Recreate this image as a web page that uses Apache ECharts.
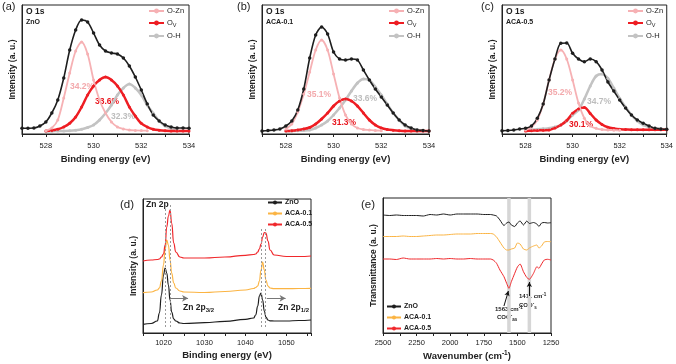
<!DOCTYPE html>
<html>
<head>
<meta charset="utf-8">
<script src="https://cdn.jsdelivr.net/npm/echarts@6/dist/echarts.min.js"></script>
<style>
html,body{margin:0;padding:0;background:#fff;}
#main{width:676px;height:364px;}
</style>
</head>
<body>
<div id="main"></div>
<script>
/*
O 1s 拟合数据 (a)(b)(c) , 纵坐标为任意单位
*/
var eO1s = [527, 527.25, 527.5, 527.75, 528, 528.25, 528.5, 528.75, 529, 529.25, 529.5, 529.75, 530, 530.25, 530.5, 530.75, 531, 531.25, 531.5, 531.75, 532, 532.25, 532.5, 532.75, 533, 533.25, 533.5, 533.75, 534];

var aRaw = [5.7, 5.8, 6, 8, 12, 21, 34, 56, 84, 104, 114, 112, 101, 89, 83, 81, 80, 76, 68, 57, 44, 30, 19, 13, 9, 7, 6, 6, 5.7];
var aOZn = [null, null, null, null, 3.3, 6, 14, 36, 61, 83, 92, 80, 54, 34, 21, 12, 7, 5, 4, 3.6, 3.4, 3.3, null, null, null, null, null, null, null];
var aOv  = [null, null, null, null, 3, 3.6, 4.7, 7, 10.7, 17, 27, 39, 48, 54, 57, 54, 48, 39, 27, 18, 10.7, 7, 4.7, 3.8, 3.3, 3.1, 3, 3, 3];
var aOH  = [null, null, null, null, 2.7, 2.8, 3, 3.1, 3.3, 3.8, 4.7, 6.5, 9, 14, 20.7, 29, 39, 46, 50, 46, 39, 29, 20.7, 13, 8, 5.5, 4, null, null];

var bRaw = [3, 3.5, 4, 5, 8, 13, 24, 45, 76, 99, 107, 100, 82, 75, 74, 75, 74, 64, 54, 45, 37, 29, 21, 14, 9, 6, 4, 3.5, 3];
var bOZn = [null, null, null, null, 5, 10, 22, 40, 62, 84, 94, 84, 60, 36, 19, 10, 6, 4.5, 4, 3.5, 3.3, null, null, null, null, null, null, null, null];
var bOv  = [null, null, null, null, 3, 3.3, 4, 5, 6.5, 10, 15, 21, 28, 33, 35, 33, 28, 21, 14, 9, 6, 4.5, 3.8, 3.3, 3, 3, 3, 3, 3];
var bOH  = [null, null, null, null, 3, 3, 3.2, 3.5, 4, 6, 9, 13, 19, 26, 34, 43, 51, 55, 54, 47, 39, 30, 21, 14, 8, 5.5, 4, 3.3, null];

var cRaw = [3.3, 3.5, 4, 5, 5.7, 8, 15.7, 30, 54, 75, 90.7, 91, 80.7, 75, 72.3, 75, 72.3, 64, 52, 43, 34, 26, 19, 14, 10.7, 8, 5.7, 5, 4.7];
var cOZn = [null, null, null, null, 4, 7, 14, 30, 54, 75, 84, 75, 54, 31, 15.7, 8, 5.7, 4.5, 4, 3.8, 3.7, null, null, null, null, null, null, null, null];
var cOv  = [null, null, null, null, 3, 3.3, 3.5, 3.8, 4, 6, 9, 13.5, 20.7, 25, 26.5, 20.5, 14, 9.5, 6.7, 5.5, 4.7, 4.5, 4.3, 4.3, 4.3, 4.3, 4.3, 4.2, 4.2];
var cOH  = [null, null, null, null, 4, 4.3, 4.7, 5.2, 5.7, 7, 9, 13, 19, 24, 35, 48, 58, 60, 55.7, 46, 35.7, 27, 19, 13, 9, 7, 5.7, 5, 4.7];

var pctA = ['34.2%', '33.6%', '32.3%'];
var pctB = ['35.1%', '31.3%', '33.6%'];
var pctC = ['35.2%', '30.1%', '34.7%'];

/*
Zn 2p (d)
*/
var eZn = [1015, 1017, 1018.5, 1019, 1019.5, 1020, 1020.4, 1020.8, 1021.2, 1021.6, 1022, 1022.5, 1023, 1024, 1025, 1030, 1035, 1040, 1042, 1042.5, 1043, 1043.4, 1043.8, 1044.2, 1044.6, 1045, 1045.5, 1046, 1047, 1050, 1053, 1056];
var znZnO  = [8.7, 9.5, 12, 20, 38, 58, 65, 60, 48, 33, 21, 14, 12, 10, 9.5, 10.3, 11.7, 13.7, 15, 18, 27, 37, 40, 33, 22, 16, 13, 12.2, 12, 12, 12.5, 13];
var znA01  = [40.3, 41, 43, 45, 52, 68, 84, 93, 88, 73, 60, 50, 45, 42, 41, 40.5, 41.5, 43, 44.5, 45.5, 47, 52, 63, 71, 63, 53, 47, 45, 44.3, 44.3, 44.5, 44.7];
var znA05  = [72, 73, 73.5, 74, 76, 79, 88, 106, 117, 123, 110, 90, 81, 76, 75, 75, 76, 77.7, 78.5, 79, 81, 84, 89, 96, 100.5, 100, 92, 83, 78, 76.5, 76.5, 77];
var znPeaks = [1020.4, 1021.6, 1043.8, 1044.8];

/*
FTIR (e)
*/
var wave = [2500, 2450, 2400, 2350, 2300, 2250, 2200, 2150, 2100, 2050, 2000, 1950, 1900, 1850, 1800, 1750, 1700, 1680, 1655, 1630, 1600, 1580, 1563, 1545, 1520, 1500, 1480, 1455, 1430, 1411, 1380, 1355, 1340, 1320, 1300, 1275, 1250];
var irZnO = [118, 117.5, 118, 117.5, 117.5, 117.5, 117, 118.5, 118, 119, 118, 119, 119, 119, 119, 118.5, 118.5, 118, 117, 113, 107.5, 110, 111, 108, 106.5, 110, 112, 108, 112, 109.5, 110.5, 109, 106.5, 110, 110.5, 110, 110.3];
var irA01 = [96.5, 96.5, 96.5, 97, 96.5, 96.5, 97, 97.5, 98, 98, 98.5, 99, 99, 99, 99.5, 99.5, 99.5, 99, 96, 91, 85, 83, 83, 84, 85, 90, 89, 84, 83, 85, 87, 88, 85, 87, 91, 91.5, 91.3];
var irA05 = [74, 74, 73.5, 75, 74, 74, 74, 74, 74.5, 74, 74.5, 74, 74, 74.5, 74, 74, 74, 73, 69.7, 63, 56.3, 49.7, 44.7, 51.3, 59.7, 66, 69, 61.3, 55.5, 53.7, 59.7, 66.3, 64.7, 69, 73, 73.7, 73];
var irBands = [[1576, 1550], [1424, 1398]];

var FONT = 'Arial, "Liberation Sans", sans-serif';
var TXT = '#222';
var C_ZN = '#f6b1b4', C_OV = '#ee1d23', C_OH = '#c3c3c3';
var C_K = '#1e1e1e', C_Y = '#fbb443', C_R = '#f0282c';

function pairs(xs, ys){
  var out = [];
  for (var i = 0; i < xs.length; i++) {
    if (ys[i] !== null) out.push([xs[i], ys[i]]);
  }
  return out;
}

function gridBox(l, t, w, h){
  return {left: l, top: t, width: w, height: h, show: true, borderColor: TXT, borderWidth: 1, backgroundColor: 'transparent'};
}

function xAxisOf(idx, min, max, step, every, name, inverse, gap, margin){
  return {
    type: 'value', gridIndex: idx, min: min, max: max, interval: step, inverse: !!inverse,
    name: name, nameLocation: 'middle', nameGap: gap,
    nameTextStyle: {fontFamily: FONT, fontSize: 9.5, fontWeight: 'bold', color: TXT},
    axisLine: {show: true, lineStyle: {color: TXT, width: 1}},
    axisTick: {show: true, length: 3, lineStyle: {color: TXT}},
    axisLabel: {fontFamily: FONT, fontSize: 7.5, color: TXT, margin: margin,
      formatter: function(v){ return v % every === 0 ? String(v) : ''; }},
    splitLine: {show: false}
  };
}

function yAxisOf(idx, max, name){
  return {
    type: 'value', gridIndex: idx, min: 0, max: max,
    name: name, nameLocation: 'middle', nameGap: 5,
    nameTextStyle: {fontFamily: FONT, fontSize: 8.5, fontWeight: 'bold', color: TXT},
    axisLine: {show: true, lineStyle: {color: TXT}},
    axisTick: {show: false}, axisLabel: {show: false}, splitLine: {show: false}
  };
}

function o1sSeries(idx, raw, ozn, ov, oh){
  var base = {type: 'line', xAxisIndex: idx, yAxisIndex: idx, smooth: 0.3, symbol: 'circle'};
  return [
    Object.assign({}, base, {name: 'O-H', data: pairs(eO1s, oh), symbolSize: 3, lineStyle: {color: C_OH, width: 2.5}, itemStyle: {color: C_OH}}),
    Object.assign({}, base, {name: 'Ov', data: pairs(eO1s, ov), symbolSize: 3, lineStyle: {color: C_OV, width: 2.5}, itemStyle: {color: C_OV}}),
    Object.assign({}, base, {name: 'O-Zn', data: pairs(eO1s, ozn), symbolSize: 3, lineStyle: {color: C_ZN, width: 1.8}, itemStyle: {color: C_ZN}}),
    Object.assign({}, base, {name: 'raw' + idx, data: pairs(eO1s, raw), symbolSize: 3.5, lineStyle: {color: C_K, width: 1.6}, itemStyle: {color: C_K}})
  ];
}

function o1sLegend(left){
  return {
    left: left, top: 7, orient: 'vertical', padding: 0, itemWidth: 15, itemHeight: 6, itemGap: 4,
    selectedMode: false, data: ['O-Zn', 'Ov', 'O-H'],
    formatter: function(n){ return n === 'Ov' ? 'O{s|V}' : n; },
    textStyle: {fontFamily: FONT, fontSize: 7.5, color: TXT, padding: [0, 0, 0, -2],
      rich: {s: {fontFamily: FONT, fontSize: 5.5, color: TXT, padding: [4, 0, 0, 0]}}}
  };
}

function sampleLegend(left, yTop){
  return {
    left: left, top: yTop, orient: 'vertical', padding: 0, itemWidth: 14, itemHeight: 5, itemGap: 4,
    selectedMode: false, data: ['ZnO', 'ACA-0.1', 'ACA-0.5'],
    textStyle: {fontFamily: FONT, fontSize: 7, fontWeight: 'bold', color: TXT, padding: [0, 0, 0, -2]}
  };
}

function txt(x, y, s, size, weight, color, rich){
  return {type: 'text', left: x, top: y, silent: true,
    style: {text: s, fontFamily: FONT, fontSize: size, fontWeight: weight || 'normal', fill: color || TXT, rich: rich || {}}};
}

var supSub = {
  sup: {fontFamily: FONT, fontSize: 4.5, fontWeight: 'bold', fill: TXT, padding: [0, 0, 4, 0]},
  sub: {fontFamily: FONT, fontSize: 4.5, fontWeight: 'bold', fill: TXT, padding: [4, 0, 0, 0]}
};
var znSub = {s: {fontFamily: FONT, fontSize: 6, fontWeight: 'bold', fill: TXT, padding: [5, 0, 0, 0]}};

var myChart = echarts.init(document.getElementById('main'));

var series = [];
series = series.concat(o1sSeries(0, aRaw, aOZn, aOv, aOH));
series = series.concat(o1sSeries(1, bRaw, bOZn, bOv, bOH));
series = series.concat(o1sSeries(2, cRaw, cOZn, cOv, cOH));

// (d) Zn 2p
var dashData = [];
for (var i = 0; i < znPeaks.length; i++) {
  var yEnd = i < 2 ? 130 : 106;
  dashData.push([{coord: [znPeaks[i], 6]}, {coord: [znPeaks[i], yEnd]}]);
}
series.push({type: 'line', name: 'ZnO', xAxisIndex: 3, yAxisIndex: 3, data: pairs(eZn, znZnO), smooth: true, smoothMonotone: 'x', symbol: 'none',
  lineStyle: {color: C_K, width: 1.2}, itemStyle: {color: C_K},
  markLine: {silent: true, symbol: ['none', 'none'], label: {show: false}, lineStyle: {type: [2, 2], color: '#9a9a9a', width: 1}, data: dashData}});
series.push({type: 'line', name: 'ACA-0.1', xAxisIndex: 3, yAxisIndex: 3, data: pairs(eZn, znA01), smooth: true, smoothMonotone: 'x', symbol: 'none',
  lineStyle: {color: C_Y, width: 1.2}, itemStyle: {color: C_Y},
  markLine: {silent: true, symbol: ['none', 'arrow'], symbolSize: [5, 6], label: {show: false}, lineStyle: {type: 'solid', color: '#777', width: 1},
    data: [[{coord: [1021.6, 34.7]}, {coord: [1026, 34.7]}], [{coord: [1045.2, 34.7]}, {coord: [1049.8, 34.7]}]]}});
series.push({type: 'line', name: 'ACA-0.5', xAxisIndex: 3, yAxisIndex: 3, data: pairs(eZn, znA05), smooth: true, smoothMonotone: 'x', symbol: 'none',
  lineStyle: {color: C_R, width: 1.2}, itemStyle: {color: C_R}});

// (e) FTIR
var bandData = [];
for (var j = 0; j < irBands.length; j++) {
  bandData.push([{xAxis: irBands[j][0]}, {xAxis: irBands[j][1]}]);
}
series.push({type: 'line', name: 'ZnO', xAxisIndex: 4, yAxisIndex: 4, data: pairs(wave, irZnO), smooth: 0.2, symbol: 'none',
  lineStyle: {color: C_K, width: 1}, itemStyle: {color: C_K},
  markArea: {silent: true, itemStyle: {color: '#d6d6d6'}, data: bandData}});
series.push({type: 'line', name: 'ACA-0.1', xAxisIndex: 4, yAxisIndex: 4, data: pairs(wave, irA01), smooth: 0.2, symbol: 'none',
  lineStyle: {color: C_Y, width: 1}, itemStyle: {color: C_Y}});
series.push({type: 'line', name: 'ACA-0.5', xAxisIndex: 4, yAxisIndex: 4, data: pairs(wave, irA05), smooth: 0.2, symbol: 'none',
  lineStyle: {color: C_R, width: 1}, itemStyle: {color: C_R},
  markLine: {silent: true, symbol: ['none', 'arrow'], symbolSize: [4, 5], label: {show: false}, lineStyle: {type: 'solid', color: '#111', width: 1},
    data: [[{coord: [1600, 27]}, {coord: [1567, 42]}], [{coord: [1411, 37]}, {coord: [1411, 51]}]]}});

var graphics = [
  txt(2, 1, '(a)', 11), txt(237, 1, '(b)', 11), txt(481, 1, '(c)', 11),
  txt(120, 199, '(d)', 11.5), txt(361, 199, '(e)', 11.5),
  txt(26, 7, 'O 1s', 8.5, 'bold'), txt(26, 19, 'ZnO', 7, 'bold'),
  txt(266, 7, 'O 1s', 8.5, 'bold'), txt(266, 19, 'ACA-0.1', 7, 'bold'),
  txt(506, 7, 'O 1s', 8.5, 'bold'), txt(506, 19, 'ACA-0.5', 7, 'bold'),
  txt(70, 82, pctA[0], 8.5, 'bold', '#f3a9ac'), txt(95, 97, pctA[1], 8.5, 'bold', '#e8141c'), txt(111, 112, pctA[2], 8.5, 'bold', '#bdbdbd'),
  txt(307, 90, pctB[0], 8.5, 'bold', '#f3a9ac'), txt(332, 118, pctB[1], 8.5, 'bold', '#e8141c'), txt(353, 94, pctB[2], 8.5, 'bold', '#bdbdbd'),
  txt(548, 88, pctC[0], 8.5, 'bold', '#f3a9ac'), txt(569, 120, pctC[1], 8.5, 'bold', '#e8141c'), txt(587, 97, pctC[2], 8.5, 'bold', '#bdbdbd'),
  txt(146, 200, 'Zn 2p', 8.5, 'bold'),
  txt(183, 303, 'Zn 2p{s|3/2}', 8.5, 'bold', TXT, znSub),
  txt(278, 303, 'Zn 2p{s|1/2}', 8.5, 'bold', TXT, znSub),
  txt(495, 305, '1563 cm{sup|-1}', 6, 'bold', TXT, supSub),
  txt(497, 313, 'COO{sup|-}{sub|as}', 6, 'bold', TXT, supSub),
  txt(519, 292, '1411 cm{sup|-1}', 6, 'bold', TXT, supSub),
  txt(519, 301, 'COO{sup|-}{sub|s}', 6, 'bold', TXT, supSub)
];

var option = {
  animation: false,
  backgroundColor: '#fff',
  textStyle: {fontFamily: FONT},
  grid: [
    gridBox(22, 5, 167, 129),
    gridBox(262, 5, 167, 129),
    gridBox(502, 5, 166, 129),
    gridBox(143, 199, 168, 134),
    gridBox(383, 198, 168, 135)
  ],
  xAxis: [
    xAxisOf(0, 527, 534, 1, 2, 'Binding energy (eV)', false, 20, 8),
    xAxisOf(1, 527, 534, 1, 2, 'Binding energy (eV)', false, 20, 8),
    xAxisOf(2, 527, 534, 1, 2, 'Binding energy (eV)', false, 20, 8),
    xAxisOf(3, 1015, 1056, 5, 10, 'Binding energy (eV)', false, 17, 6),
    xAxisOf(4, 1250, 2500, 125, 250, 'Wavenumber (cm{s|-1})', true, 17, 6)
  ],
  yAxis: [
    yAxisOf(0, 129, 'Intensity (a. u.)'),
    yAxisOf(1, 129, 'Intensity (a. u.)'),
    yAxisOf(2, 129, 'Intensity (a. u.)'),
    yAxisOf(3, 134, 'Intensity (a. u.)'),
    yAxisOf(4, 135, 'Transmittance (a. u.)')
  ],
  legend: [o1sLegend(148), o1sLegend(388), o1sLegend(627), sampleLegend(267, 199), sampleLegend(386, 303)],
  series: series,
  graphic: {elements: graphics}
};
option.xAxis[4].nameTextStyle.rich = {s: {fontFamily: FONT, fontSize: 6.5, fontWeight: 'bold', color: TXT, padding: [0, 0, 6, 0]}};

myChart.setOption(option);
</script>
</body>
</html>
